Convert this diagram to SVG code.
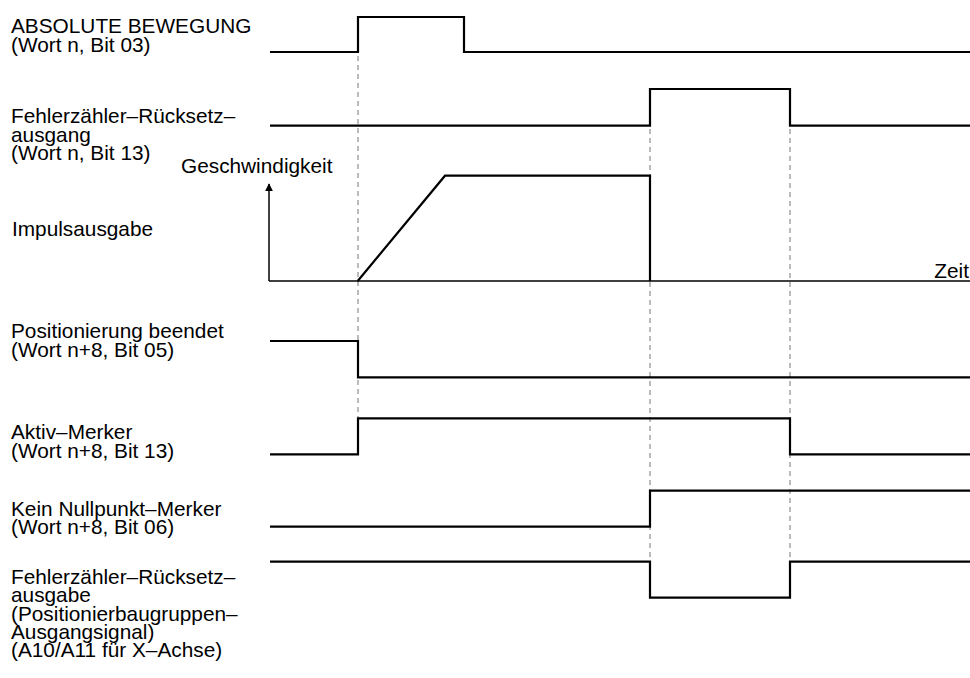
<svg xmlns="http://www.w3.org/2000/svg" width="970" height="678" viewBox="0 0 970 678">
<style>
.lbl{font-family:"Liberation Sans",Arial,sans-serif;font-size:20.8px;fill:#000}
.sig{fill:none;stroke:#000;stroke-width:2.2;stroke-linejoin:miter}
.dash{fill:none;stroke:#777;stroke-width:1;stroke-dasharray:5 4}
.axis{fill:none;stroke:#000;stroke-width:1.5}
</style>
<defs>
<marker id="arr" viewBox="0 0 10 10" refX="9" refY="5" markerWidth="8" markerHeight="8" markerUnits="userSpaceOnUse" orient="auto">
<path d="M0,0 L10,5 L0,10 z" fill="#000"/>
</marker>
</defs>
<rect width="970" height="678" fill="#fff"/>
<g id="guides">
<line class="dash" x1="358" y1="56" x2="358" y2="418"/>
<line class="dash" x1="650" y1="129" x2="650" y2="561"/>
<line class="dash" x1="790" y1="129" x2="790" y2="561"/>
</g>
<g id="absolute-bewegung">
<text class="lbl" x="11" y="33.3"><tspan x="11">ABSOLUTE BEWEGUNG</tspan><tspan x="11" dy="18.3">(Wort n, Bit 03)</tspan></text>
<polyline class="sig" points="270,52 358,52 358,17 464,17 464,52 970,52"/>
</g>
<g id="fehlerzaehler-ruecksetzausgang">
<text class="lbl" x="11" y="123.3"><tspan x="11">Fehlerzähler–Rücksetz–</tspan><tspan x="11" dy="18.3">ausgang</tspan><tspan x="11" dy="18.3">(Wort n, Bit 13)</tspan></text>
<polyline class="sig" points="270,125.7 650,125.7 650,89 790,89 790,125.7 970,125.7"/>
</g>
<g id="impulsausgabe">
<text class="lbl" x="181" y="173.3">Geschwindigkeit</text>
<text class="lbl" x="12" y="236">Impulsausgabe</text>
<text class="lbl" x="969" y="278.3" text-anchor="end">Zeit</text>
<line class="axis" x1="269" y1="281" x2="269" y2="184" marker-end="url(#arr)"/>
<line class="axis" x1="269" y1="281" x2="970" y2="281"/>
<polyline class="sig" stroke-width="2.6" points="357.7,281 445,175.7 650,175.7 650,281"/>
</g>
<g id="positionierung-beendet">
<text class="lbl" x="11" y="338.3"><tspan x="11">Positionierung beendet</tspan><tspan x="11" dy="18.3">(Wort n+8, Bit 05)</tspan></text>
<polyline class="sig" points="270,341 358,341 358,377.3 970,377.3"/>
</g>
<g id="aktiv-merker">
<text class="lbl" x="11" y="439.3"><tspan x="11">Aktiv–Merker</tspan><tspan x="11" dy="18.3">(Wort n+8, Bit 13)</tspan></text>
<polyline class="sig" points="270,454.3 358,454.3 358,418.3 790,418.3 790,454.3 970,454.3"/>
</g>
<g id="kein-nullpunkt-merker">
<text class="lbl" x="11" y="515.7"><tspan x="11">Kein Nullpunkt–Merker</tspan><tspan x="11" dy="18.3">(Wort n+8, Bit 06)</tspan></text>
<polyline class="sig" points="270,526.7 650,526.7 650,490.7 970,490.7"/>
</g>
<g id="fehlerzaehler-ruecksetzausgabe">
<text class="lbl" x="11" y="584"><tspan x="11">Fehlerzähler–Rücksetz–</tspan><tspan x="11" dy="18.3">ausgabe</tspan><tspan x="11" dy="18.3">(Positionierbaugruppen–</tspan><tspan x="11" dy="18.3">Ausgangsignal)</tspan><tspan x="11" dy="18.3">(A10/A11 für X–Achse)</tspan></text>
<polyline class="sig" points="270,561.7 650,561.7 650,597.7 790,597.7 790,561.7 970,561.7"/>
</g>
</svg>
